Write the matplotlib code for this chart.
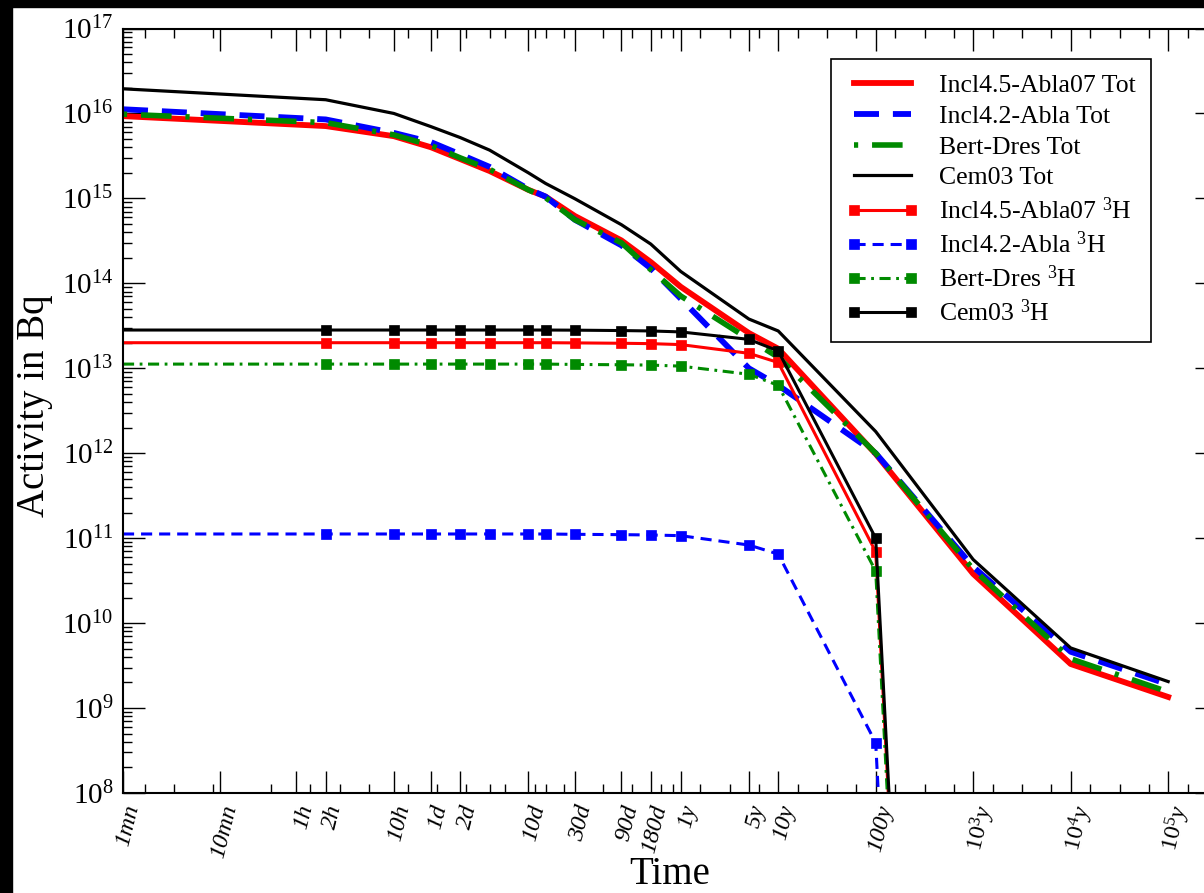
import matplotlib
matplotlib.use("Agg")
import matplotlib.pyplot as plt
from matplotlib.ticker import FixedLocator, NullFormatter, LogLocator, LogFormatterMathtext
from matplotlib.patches import Rectangle

plt.rcParams['font.family'] = ['Liberation Serif', 'DejaVu Serif']
plt.rcParams['mathtext.fontset'] = 'custom'
plt.rcParams['mathtext.rm'] = 'Liberation Serif'
plt.rcParams['mathtext.it'] = 'Liberation Serif:italic'
plt.rcParams['lines.scale_dashes'] = False

# --- time grid (seconds) ---
YEAR = 3.15576e7
t_tot = [60, 7200, 36000, 86400, 172800, 345600, 864000, 1296000, 2592000,
         7776000, 15552000, YEAR, 5 * YEAR, 10 * YEAR, 100 * YEAR,
         1e3 * YEAR, 1e4 * YEAR, 1e5 * YEAR]
t_h3 = t_tot[:16]

# --- total activity (Bq) ---
incl45_tot = [9.3e15, 7.1e15, 5.4e15, 4.0e15, 2.9e15, 2.1e15, 1.26e15, 1.05e15, 6.2e14,
              3.2e14, 1.78e14, 9.1e13, 2.6e13, 1.7e13, 9.8e11, 3.8e10, 3.3e9, 1.35e9]
incl42_tot = [1.12e16, 8.5e15, 5.9e15, 4.6e15, 3.3e15, 2.35e15, 1.29e15, 1.05e15, 5.6e14,
              2.8e14, 1.5e14, 6.6e13, 1.0e13, 6.3e12, 1.0e12, 4.6e10, 4.6e9, 1.9e9]
bert_tot = [9.8e15, 7.8e15, 5.6e15, 4.2e15, 3.0e15, 2.2e15, 1.26e15, 1.02e15, 5.6e14,
            3.0e14, 1.45e14, 7.1e13, 2.2e13, 1.35e13, 1.0e12, 4.3e10, 3.8e9, 1.55e9]
cem_tot = [1.95e16, 1.45e16, 1.0e16, 7.0e15, 5.2e15, 3.7e15, 2.0e15, 1.5e15, 9.9e14,
           4.9e14, 2.9e14, 1.38e14, 3.8e13, 2.75e13, 1.8e12, 5.6e10, 5.1e9, 2.05e9]

# --- tritium activity (Bq) ---
incl45_h3 = [2.0e13, 2.0e13, 2.0e13, 2.0e13, 2.0e13, 2.0e13, 2.0e13, 2.0e13, 1.99e13,
             1.97e13, 1.95e13, 1.9e13, 1.5e13, 1.17e13, 6.9e10, 6e-12]
incl42_h3 = [1.12e11, 1.12e11, 1.12e11, 1.12e11, 1.12e11, 1.12e11, 1.12e11, 1.12e11, 1.11e11,
             1.1e11, 1.09e11, 1.07e11, 8.3e10, 6.5e10, 3.9e8, 3e-14]
bert_h3 = [1.12e13, 1.12e13, 1.12e13, 1.12e13, 1.12e13, 1.12e13, 1.12e13, 1.12e13, 1.11e13,
           1.1e13, 1.09e13, 1.06e13, 8.5e12, 6.3e12, 4.1e10, 4e-12]
cem_h3 = [2.82e13, 2.82e13, 2.82e13, 2.82e13, 2.82e13, 2.82e13, 2.82e13, 2.82e13, 2.81e13,
          2.78e13, 2.75e13, 2.68e13, 2.19e13, 1.6e13, 1.0e11, 1e-11]

# --- axis ticks ---
xtick_vals = [60, 600, 3600, 7200, 36000, 86400, 172800, 864000, 2592000, 7776000,
              15552000, YEAR, 5 * YEAR, 10 * YEAR, 100 * YEAR, 1e3 * YEAR, 1e4 * YEAR, 1e5 * YEAR]
xtick_labels = ['1mn', '10mn', '1h', '2h', '10h', '1d', '2d', '10d', '30d', '90d',
                '180d', '1y', '5y', '10y', '100y',
                r'$\mathit{10^{3}y}$', r'$\mathit{10^{4}y}$', r'$\mathit{10^{5}y}$']
xminor_vals = [1e2, 2e2, 5e2, 2e3, 5e3, 1e4, 2e4, 5e4, 1e5, 2e5, 345600, 5e5, 1e6, 1296000,
               2e6, 5e6, 1e7, 2e7, 2.6e7, 5e7, 1e8, 2e8, 5e8, 1e9, 2e9, 5e9, 1e10, 2e10,
               5e10, 1e11, 2e11, 5e11, 1e12, 2e12, 5e12]

GREEN = '#008a00'

fig = plt.figure(figsize=(12.04, 8.93), dpi=100)
ax = fig.add_axes([123 / 1204, 100 / 893, 1094 / 1204, 764.5 / 893])

ax.plot(t_tot, incl45_tot, color='red', lw=4.2, label='Incl4.5-Abla07 Tot')
ax.plot(t_tot, incl42_tot, color='blue', lw=4.2, ls=(0, (18, 10)), label='Incl4.2-Abla Tot')
ax.plot(t_tot, bert_tot, color=GREEN, lw=4.0, ls=(0, (3, 10, 22, 10)), label='Bert-Dres Tot')
ax.plot(t_tot, cem_tot, color='black', lw=2.3, label='Cem03 Tot')

mk = dict(marker='s', ms=7.5, mew=0.5, markevery=slice(1, None))
ax.plot(t_h3, incl45_h3, color='red', lw=2.2, mfc='red', mec='red',
        label=r'Incl4.5-Abla07 $^{3}$H', **mk)
ax.plot(t_h3, incl42_h3, color='blue', lw=2.2, ls=(0, (8, 5)), mfc='blue', mec='blue',
        label=r'Incl4.2-Abla $^{3}$H', **mk)
ax.plot(t_h3, bert_h3, color=GREEN, lw=2.2, ls=(0, (8, 4, 2, 4)), mfc=GREEN, mec=GREEN,
        label=r'Bert-Dres $^{3}$H', **mk)
ax.plot(t_h3, cem_h3, color='black', lw=2.2, mfc='black', mec='black',
        label=r'Cem03 $^{3}$H', **mk)

ax.set_xscale('log')
ax.set_yscale('log')
ax.set_xlim(60, 1e13)
ax.set_ylim(1e8, 1e17)

ax.xaxis.set_major_locator(FixedLocator(xtick_vals))
ax.xaxis.set_minor_locator(FixedLocator(xminor_vals))
ax.xaxis.set_minor_formatter(NullFormatter())
ax.set_xticklabels(xtick_labels, rotation=76, ha='right', va='top',
                   rotation_mode='anchor', fontstyle='italic', fontsize=17.5)

ax.yaxis.set_major_locator(LogLocator(base=10, numticks=20))
ax.yaxis.set_minor_locator(LogLocator(base=10, subs=range(2, 10), numticks=20))
ax.yaxis.set_major_formatter(LogFormatterMathtext())
ax.yaxis.set_minor_formatter(NullFormatter())

ax.tick_params(which='both', direction='in', top=True, right=True, width=1.0, color='black')
ax.tick_params(which='major', length=16)
ax.tick_params(which='minor', length=6.5)
ax.tick_params(axis='x', which='major', pad=7)
ax.tick_params(axis='y', which='major', pad=7, labelsize=21)
for s in ax.spines.values():
    s.set_linewidth(1.5)

ax.set_xlabel('Time', fontsize=28)
ax.xaxis.set_label_coords(0.5, -0.082)
ax.set_ylabel('Activity in Bq', fontsize=28)
ax.yaxis.set_label_coords(-0.064, 0.507)

leg = ax.legend(loc='upper right', bbox_to_anchor=(1151 / 1204, 1 - 59 / 893),
                bbox_transform=fig.transFigure, borderaxespad=0, fontsize=18.5,
                handlelength=2.8, handletextpad=0.8, borderpad=0.6, labelspacing=0.3,
                numpoints=2, fancybox=False, framealpha=1, edgecolor='black')
leg.get_frame().set_linewidth(1.2)

# black strips at left and top edges of the picture
fig.add_artist(Rectangle((0, 0), 12 / 1204, 1, transform=fig.transFigure,
                         color='black', zorder=10))
fig.add_artist(Rectangle((0, 1 - 7 / 893), 1, 7 / 893, transform=fig.transFigure,
                         color='black', zorder=10))

fig.savefig('out.png', dpi=100)
